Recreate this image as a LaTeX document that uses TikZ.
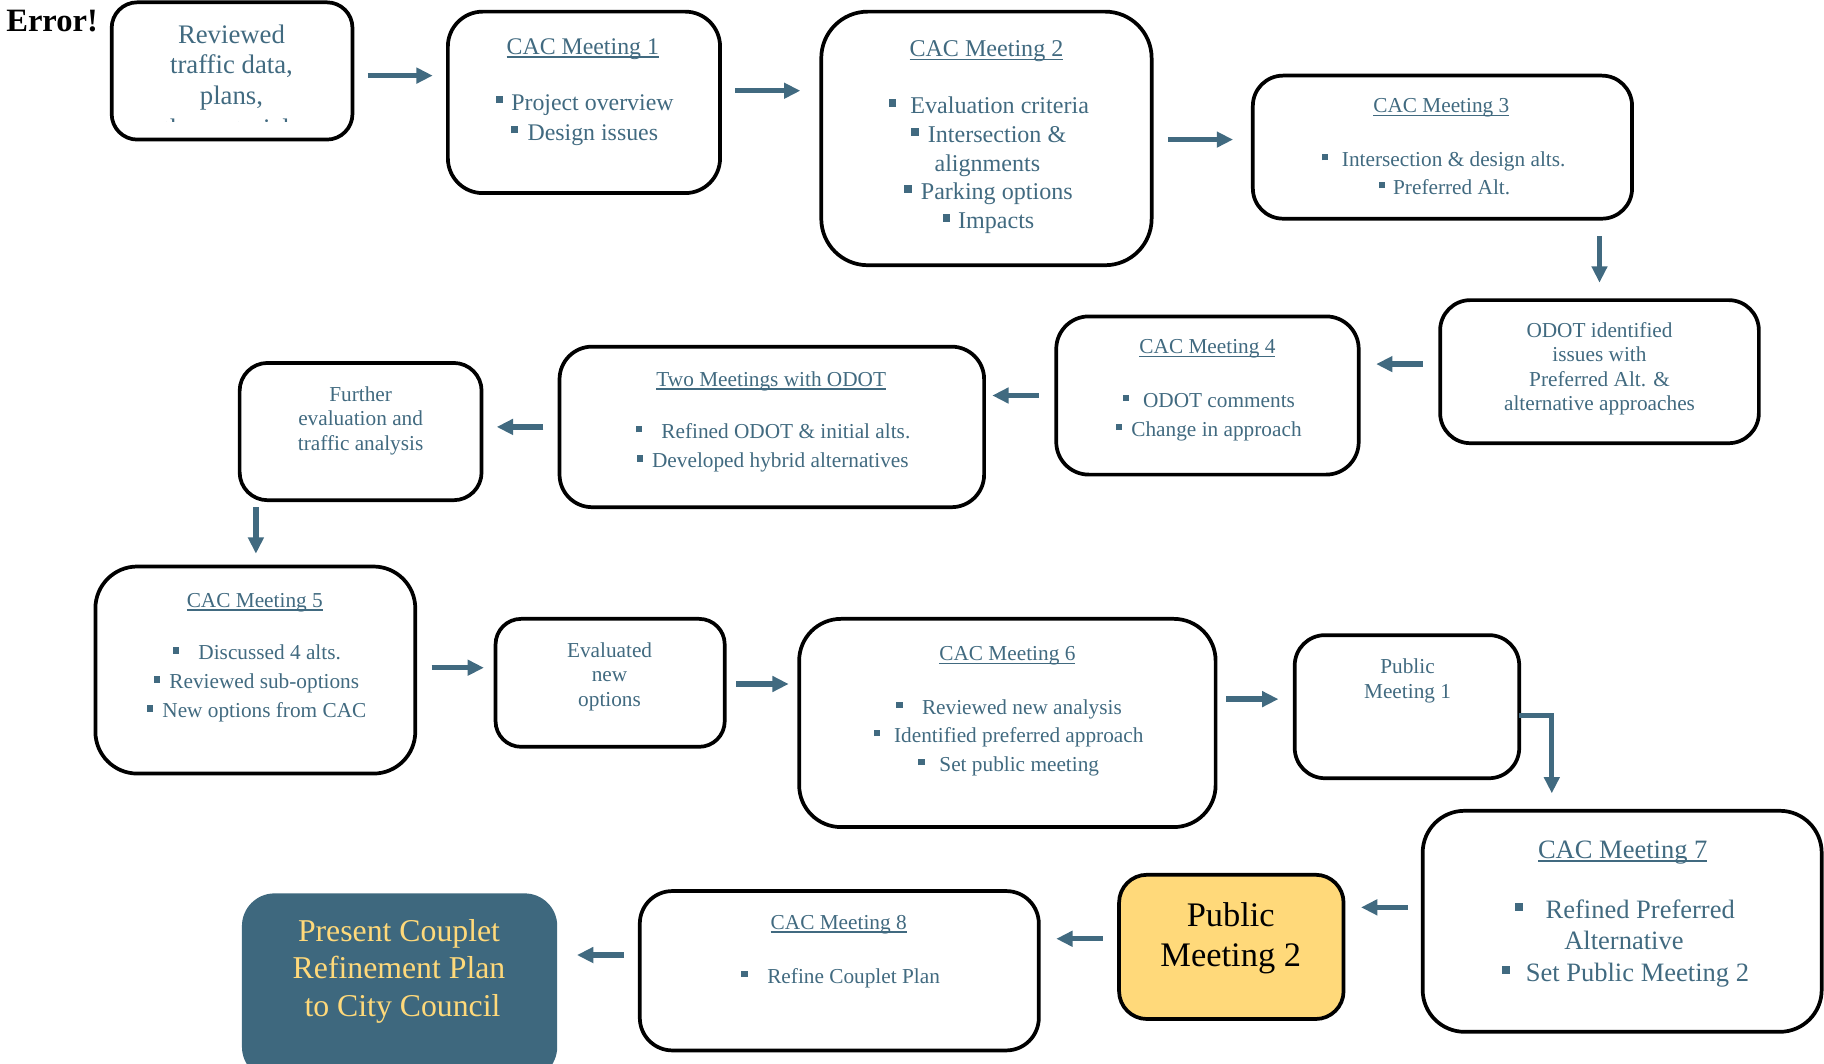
\documentclass[tikz,border=0pt]{standalone}
\usepackage{fontspec}
\setmainfont{Liberation Serif}
\usetikzlibrary{arrows.meta}
\definecolor{tealc}{HTML}{416A80}
\definecolor{boxteal}{HTML}{3E687E}
\definecolor{yel}{HTML}{FFD97A}
\newdimen\upx \upx=0.5pt
\newcommand\fz[1]{\fontsize{#1}{#1}\selectfont}
\newcommand\bul{\rule[0.29em]{0.3em}{0.3em}}
\newcommand\bi[2]{\bul\hspace{#1\upx}#2}
\newcommand\ul[1]{\setbox0\hbox{#1}\rlap{\rule[-0.15em]{\wd0}{0.065em}}\box0}
\tikzset{
  box/.style={draw=black, line width=1.6pt, rounded corners=#1, anchor=north west, inner sep=0pt, outer sep=0pt},
  tx/.style={text=tealc, inner sep=0pt, anchor=mid},
  it/.style={tx, anchor=mid west},
  arr/.style={draw=tealc, line width=2.3pt, -{Triangle[length=7pt,width=6.5pt]}},
  fA/.style={font=\fz{11.5pt}, yshift=-1.5pt},
  fB/.style={font=\fz{10.25pt}, yshift=-1.5pt},
  fC/.style={font=\fz{10.35pt}, yshift=-1.5pt},
  fD/.style={font=\fz{9.15pt}, yshift=-1.25pt},
  fE/.style={font=\fz{11.4pt}, yshift=-2pt},
  fP/.style={font=\fz{14.8pt}, yshift=-3pt},
  fQ/.style={font=\fz{13.65pt}, yshift=-3pt},
}
\begin{document}
\begin{tikzpicture}[x=0.5pt,y=-0.5pt]
\useasboundingbox (0,0) rectangle (1568,914);
% boxes
\node[box=11pt, minimum width=103.5pt, minimum height=59pt] (rev) at (96,2) {};
\node[box=15pt, minimum width=117pt, minimum height=78pt] (c1) at (385,10) {};
\node[box=20pt, minimum width=142pt, minimum height=109pt] (c2) at (706,10) {};
\node[box=13pt, minimum width=163pt, minimum height=61.5pt] (c3) at (1077,65) {};
\node[box=13pt, minimum width=137pt, minimum height=61.5pt] (odot) at (1238,258) {};
\node[box=14pt, minimum width=130pt, minimum height=68pt] (c4) at (908,272) {};
\node[box=14pt, minimum width=182.5pt, minimum height=69pt] (two) at (481,298) {};
\node[box=12pt, minimum width=104pt, minimum height=59pt] (fur) at (206,312) {};
\node[box=18pt, minimum width=137.5pt, minimum height=89pt] (c5) at (82,487) {};
\node[box=11pt, minimum width=98.5pt, minimum height=55pt] (ev) at (426,532) {};
\node[box=18pt, minimum width=179pt, minimum height=89.5pt] (c6) at (687,532) {};
\node[box=13pt, minimum width=96.5pt, minimum height=61.5pt] (pm1) at (1113,546) {};
\node[box=18pt, minimum width=171.5pt, minimum height=95pt] (c7) at (1223,697) {};
\node[box=12pt, fill=yel, minimum width=96.5pt, minimum height=62pt] (pm2) at (962,752) {};
\node[box=14pt, minimum width=171.5pt, minimum height=68.5pt] (c8) at (550,766) {};
\node[box=14pt, draw=none, fill=boxteal, minimum width=135.5pt, minimum height=80pt] (pres) at (208,768) {};

% Error
\node[inner sep=0pt, anchor=base west, font=\fz{14pt}\bfseries] (err) at (5,27) {Error!};

% Reviewed
\node[tx, fA] (rev1) at (199,30) {Reviewed};
\node[tx, fA] (rev2) at (199,56) {traffic data,};
\node[tx, fA] (rev3) at (199,82) {plans,};
\begin{scope}
\clip (96,2) rectangle (303,104.5);
\node[tx, fA] (rev4) at (199,111) {the materials};
\end{scope}

% CAC 1
\node[tx, fB] (c1t) at (501,39) {\ul{CAC Meeting 1}};
\node[it, fB] (c1a) at (426,87) {\bi{7}{Project overview}};
\node[it, fB] (c1b) at (439,113) {\bi{8}{Design issues}};

% CAC 2
\node[tx, fC] (c2t) at (848,41) {\ul{CAC Meeting 2}};
\node[it, fC] (c2a) at (764,90) {\bi{12}{Evaluation criteria}};
\node[it, fC] (c2b) at (783,115) {\bi{8}{Intersection \&}};
\node[it, fC] (c2c) at (803,140) {alignments};
\node[it, fC] (c2d) at (777,164) {\bi{8}{Parking options}};
\node[it, fC] (c2e) at (810,189) {\bi{7}{Impacts}};

% CAC 3
\node[tx, fD] (c3t) at (1239,90) {\ul{CAC Meeting 3}};
\node[it, fD] (c3a) at (1136,136) {\bi{11.7}{Intersection \& design alts.}};
\node[it, fD] (c3b) at (1185,160) {\bi{6.7}{Preferred Alt.}};

% ODOT identified
\node[tx, fD] (od1) at (1375,283) {ODOT identified};
\node[tx, fD] (od2) at (1375,304) {issues with};
\node[tx, fD] (od3) at (1375,325) {Preferred Alt. \&};
\node[tx, fD] (od4) at (1375,346) {alternative approaches};

% CAC 4
\node[tx, fD] (c4t) at (1038,297) {\ul{CAC Meeting 4}};
\node[it, fD] (c4a) at (965,343) {\bi{11.7}{ODOT comments}};
\node[it, fD] (c4b) at (959,368) {\bi{7.7}{Change in approach}};

% Two meetings
\node[tx, fD] (twt) at (663,325) {\ul{Two Meetings with ODOT}};
\node[it, fD] (twa) at (546,370) {\bi{16.7}{Refined ODOT \& initial alts.}};
\node[it, fD] (twb) at (547,395) {\bi{7.7}{Developed hybrid alternatives}};

% Further
\node[tx, fD] (fu1) at (310,338) {Further};
\node[tx, fD] (fu2) at (310,359) {evaluation and};
\node[tx, fD] (fu3) at (310,380) {traffic analysis};

% CAC 5
\node[tx, fD] (c5t) at (219,515) {\ul{CAC Meeting 5}};
\node[it, fD] (c5a) at (148,560) {\bi{16.7}{Discussed 4 alts.}};
\node[it, fD] (c5b) at (132,585) {\bi{7.7}{Reviewed sub-options}};
\node[it, fD] (c5c) at (126,610) {\bi{7.7}{New options from CAC}};

% Evaluated
\node[tx, fD] (ev1) at (524,558) {Evaluated};
\node[tx, fD] (ev2) at (524,579) {new};
\node[tx, fD] (ev3) at (524,600) {options};

% CAC 6
\node[tx, fD] (c6t) at (866,561) {\ul{CAC Meeting 6}};
\node[it, fD] (c6a) at (770,607) {\bi{16.7}{Reviewed new analysis}};
\node[it, fD] (c6b) at (751,631) {\bi{11.7}{Identified preferred approach}};
\node[it, fD] (c6c) at (789,656) {\bi{12.7}{Set public meeting}};

% Public meeting 1
\node[tx, fD] (p11) at (1210,572) {Public};
\node[tx, fD] (p12) at (1210,593) {Meeting 1};

% CAC 7
\node[tx, fE] (c7t) at (1395,729) {\ul{CAC Meeting 7}};
\node[it, fE] (c7a) at (1302,781) {\bi{19.4}{Refined Preferred}};
\node[tx, fE] (c7b) at (1396,808) {Alternative};
\node[it, fE] (c7c) at (1291,835) {\bi{13.4}{Set Public Meeting 2}};

% Public meeting 2
\node[inner sep=0pt, anchor=mid, fP] (p21) at (1058,786) {Public};
\node[inner sep=0pt, anchor=mid, fP] (p22) at (1058,820) {Meeting 2};

% CAC 8
\node[tx, fD] (c8t) at (721,792) {\ul{CAC Meeting 8}};
\node[it, fD] (c8a) at (637,838) {\bi{16.7}{Refine Couplet Plan}};

% Present
\node[inner sep=0pt, anchor=mid, text=yel, fQ] (pr1) at (343,799) {Present Couplet};
\node[inner sep=0pt, anchor=mid, text=yel, fQ] (pr2) at (343,831) {Refinement Plan};
\node[inner sep=0pt, anchor=mid, text=yel, fQ] (pr3) at (346,863) {to City Council};

% arrow end points
\coordinate (a1s) at (316,65);   \coordinate (a1e) at (372,65);
\coordinate (a2s) at (632,78);   \coordinate (a2e) at (688,78);
\coordinate (a3s) at (1004,120); \coordinate (a3e) at (1060,120);
\coordinate (a4s) at (1375,203); \coordinate (a4e) at (1375,243);
\coordinate (a5s) at (1223,313); \coordinate (a5e) at (1183,313);
\coordinate (a6s) at (893,340);  \coordinate (a6e) at (853,340);
\coordinate (a7s) at (467,367);  \coordinate (a7e) at (427,367);
\coordinate (a8s) at (220,436);  \coordinate (a8e) at (220,476);
\coordinate (a9s) at (371,574);  \coordinate (a9e) at (416,574);
\coordinate (a10s) at (633,588); \coordinate (a10e) at (678,588);
\coordinate (a11s) at (1054,601); \coordinate (a11e) at (1099,601);
\coordinate (a12s) at (1306,615); \coordinate (a12e) at (1334,682);
\coordinate (a13s) at (1210,780); \coordinate (a13e) at (1170,780);
\coordinate (a14s) at (948,807);  \coordinate (a14e) at (908,807);
\coordinate (a15s) at (536,821);  \coordinate (a15e) at (496,821);

\draw[arr] (a1s) -- (a1e);
\draw[arr] (a2s) -- (a2e);
\draw[arr] (a3s) -- (a3e);
\draw[arr] (a4s) -- (a4e);
\draw[arr] (a5s) -- (a5e);
\draw[arr] (a6s) -- (a6e);
\draw[arr] (a7s) -- (a7e);
\draw[arr] (a8s) -- (a8e);
\draw[arr] (a9s) -- (a9e);
\draw[arr] (a10s) -- (a10e);
\draw[arr] (a11s) -- (a11e);
\draw[arr] (a12s) -| (a12e);
\draw[arr] (a13s) -- (a13e);
\draw[arr] (a14s) -- (a14e);
\draw[arr] (a15s) -- (a15e);
\end{tikzpicture}
\end{document}
